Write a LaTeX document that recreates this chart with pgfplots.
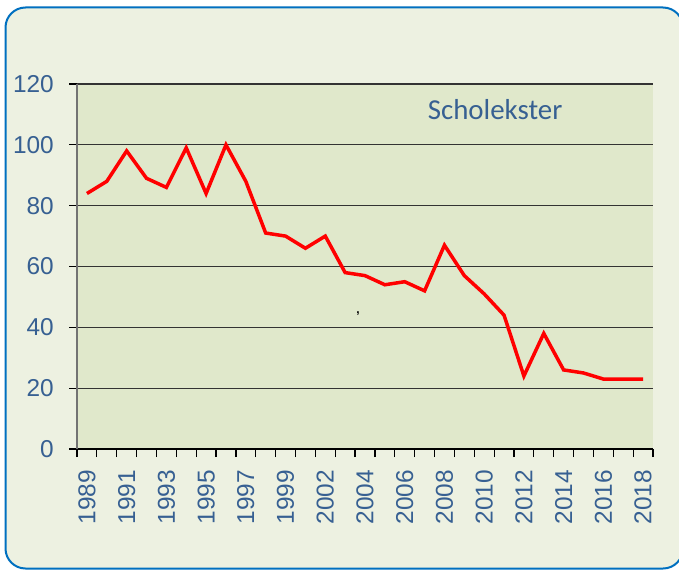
\documentclass[border=0pt]{standalone}
\usepackage{fontspec}
\setmainfont{Liberation Sans}
\newfontfamily\calibri{Carlito}
\usepackage{pgfplots}
\pgfplotsset{compat=1.18}
\definecolor{outerbg}{RGB}{237,241,225}
\definecolor{plotbg}{RGB}{224,232,203}
\definecolor{frameblue}{RGB}{0,112,192}
\definecolor{labelblue}{RGB}{55,96,146}
\begin{document}
\begin{tikzpicture}[x=1bp,y=1bp]
\clip (0,0) rectangle (679,-570);
\fill[white] (0,0) rectangle (679,-570);
\draw[frameblue, line width=2bp, fill=outerbg, rounded corners=20bp] (5.5,-7.5) rectangle (683,-568.5);
\begin{axis}[
  at={(77bp,-449bp)}, anchor=south west, scale only axis,
  width=576bp, height=365bp,
  xmin=-0.5, xmax=28.5, ymin=0, ymax=120,
  axis lines*=left,
  axis background/.style={fill=plotbg},
  ytick={0,20,...,120},
  ymajorgrids, grid style={black!80, line width=1.2bp},
  x axis line style={black, line width=1.2bp},
  y axis line style={black!55, line width=2bp},
  tick align=outside,
  major tick length=8bp, minor tick length=8bp,
  ytick style={black, line width=1.2bp},
  minor x tick style={black, line width=1.2bp},
  major x tick style={draw=none},
  xtick={0,2,...,28},
  minor xtick={-0.5,0.5,...,28.5},
  xticklabels={1989,1991,1993,1995,1997,1999,2002,2004,2006,2008,2010,2012,2014,2016,2018},
  tick label style={font=\fontsize{24.5}{24.5}\selectfont, text=labelblue},
  /pgf/number format/assume math mode=true,
  x tick label style={rotate=90, anchor=east, inner sep=0pt},
  y tick label style={anchor=east, inner sep=0pt},
  xticklabel shift=13bp,
  yticklabel shift=15bp,
  clip=false,
]
\addplot[red, line width=3.5bp, no marks] coordinates {
(0,84) (1,88) (2,98) (3,89) (4,86) (5,99) (6,84) (7,100) (8,88) (9,71)
(10,70) (11,66) (12,70) (13,58) (14,57) (15,54) (16,55) (17,52) (18,67) (19,57)
(20,51) (21,44) (22,24) (23,38) (24,26) (25,25) (26,23) (27,23) (28,23)
};
\node[anchor=base, text=labelblue, font=\calibri\fontsize{29}{29}\selectfont] at (axis cs:20.55,108.2) {Scholekster};
\node[font=\fontsize{12}{12}\selectfont\bfseries] at (axis cs:13.65,44.5) {,};
\end{axis}
\end{tikzpicture}
\end{document}
